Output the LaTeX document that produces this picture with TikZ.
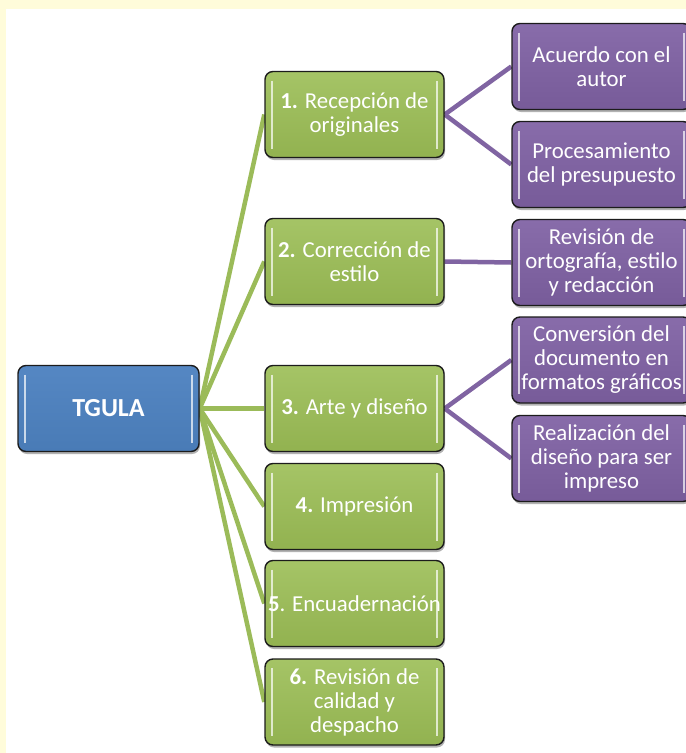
\documentclass[tikz,border=0pt]{standalone}
\usepackage{fontspec}
\setmainfont{Carlito}
\usepackage{tikz}
\usetikzlibrary{positioning,shadows,backgrounds}
\usepackage{xcolor}
\definecolor{paper}{RGB}{255,252,218}
\definecolor{edge}{RGB}{28,28,28}
\definecolor{tgreen}{HTML}{9BBB59}
\definecolor{greenhi}{HTML}{A5C466}
\definecolor{greenlo}{HTML}{92B250}
\definecolor{tpurple}{HTML}{8064A2}
\definecolor{purphi}{HTML}{886CAA}
\definecolor{purplo}{HTML}{775B99}
\definecolor{bluehi}{HTML}{5587C3}
\definecolor{bluelo}{HTML}{497BB6}

\begin{document}
\begin{tikzpicture}[x=1pt, y=-1pt,
    box/.style={draw=edge, line width=1.4pt, rounded corners=8pt,
        minimum width=179pt, minimum height=86pt, inner sep=2pt,
        align=center, text=white, font=\fontsize{22.8}{24}\selectfont,
        drop shadow={shadow xshift=1pt, shadow yshift=-2.5pt, opacity=.3, fill=black},
        path picture={
            \draw[white, opacity=.7, line width=1.5pt]
                ([xshift=7pt,yshift=-9pt]path picture bounding box.north west) --
                ([xshift=7pt,yshift=9pt]path picture bounding box.south west);
            \draw[white, opacity=.7, line width=1.5pt]
                ([xshift=-7pt,yshift=-9pt]path picture bounding box.north east) --
                ([xshift=-7pt,yshift=9pt]path picture bounding box.south east);}},
    root/.style={box, minimum width=181pt, top color=bluehi, bottom color=bluelo,
        font=\fontsize{26}{28}\selectfont\bfseries},
    stage/.style={box, top color=greenhi, bottom color=greenlo},
    task/.style={box, top color=purphi, bottom color=purplo},
    stem/.style={line width=4.5pt, tgreen},
    twig/.style={line width=4.5pt, tpurple}]

    % Frame
    \useasboundingbox (0,0) rectangle (686,753);
    \begin{scope}[on background layer]
        \fill[paper] (0,0) rectangle (686,753);
        \fill[white] (6,9) rectangle (686,753);
    \end{scope}

    % Root
    \node[root] (tgula) at (108.5,408.5) {TGULA};

    % Level 1
    \node[stage] (recep) at (354.5,114.5) {\textbf{1.} Recepción de\\originales};
    \node[stage] (correc) at (354.5,261.5) {\textbf{2.} Corrección de\\estilo};
    \node[stage] (arte) at (354.5,408.5) {\textbf{3.} Arte y diseño};
    \node[stage] (impr) at (354.5,506.5) {\textbf{4.} Impresión};
    \node[stage] (encuad) at (354.5,603.5) {\textbf{5}. Encuadernación};
    \node[stage] (calid) at (354.5,702) {\textbf{6.} Revisión de\\calidad y\\despacho};

    % Level 2
    \node[task] (acuerdo) at (601.5,66.5) {Acuerdo con el\\autor};
    \node[task] (presup) at (601.5,164.5) {Procesamiento\\del presupuesto};
    \node[task] (ortog) at (601.5,262.5) {Revisión de\\ortografía, estilo\\y redacción};
    \node[task] (conv) at (601.5,360) {Conversión del\\documento en\\formatos gráficos};
    \node[task] (realiz) at (601.5,458.5) {Realización del\\diseño para ser\\impreso};

    % Connectors
    \begin{scope}[on background layer]
        \draw[stem] (tgula.east) -- (recep.west);
        \draw[stem] (tgula.east) -- (correc.west);
        \draw[stem] (tgula.east) -- (arte.west);
        \draw[stem] (tgula.east) -- (impr.west);
        \draw[stem] (tgula.east) -- (encuad.west);
        \draw[stem] (tgula.east) -- (calid.west);
        \draw[twig] (recep.east) -- (acuerdo.west);
        \draw[twig] (recep.east) -- (presup.west);
        \draw[twig] (correc.east) -- (ortog.west);
        \draw[twig] (arte.east) -- (conv.west);
        \draw[twig] (arte.east) -- (realiz.west);
    \end{scope}
\end{tikzpicture}
\end{document}
